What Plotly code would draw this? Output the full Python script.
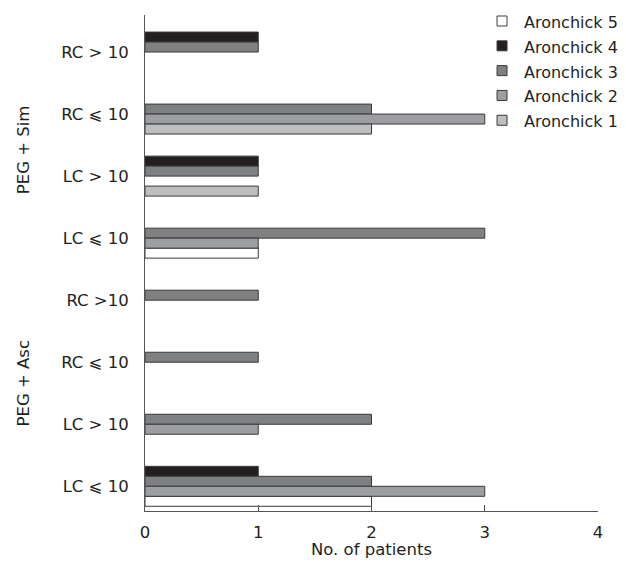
import plotly.graph_objects as go

# Categories listed bottom to top
categories = ["LC ⩽ 10", "LC > 10", "RC ⩽ 10", "RC >10",
              "LC ⩽ 10", "LC > 10", "RC ⩽ 10", "RC > 10"]
group_labels = ["PEG + Asc", "PEG + Sim"]

aronchick1 = [0, 0, 0, 0, 0, 1, 2, 0]
aronchick2 = [3, 1, 0, 0, 1, 0, 3, 0]
aronchick3 = [2, 2, 1, 1, 3, 1, 2, 1]
aronchick4 = [1, 0, 0, 0, 0, 1, 0, 1]
aronchick5 = [2, 0, 0, 0, 1, 0, 0, 0]

xticks = [0, 1, 2, 3, 4]

pos = list(range(len(categories)))
W = 0.161

# (name, values, colour, slot offset)
series = [
    ("Aronchick 5", aronchick5, "#ffffff", -2 * W),
    ("Aronchick 4", aronchick4, "#231f20", 1 * W),
    ("Aronchick 3", aronchick3, "#7f8082", 0.0),
    ("Aronchick 2", aronchick2, "#9d9ea1", -1 * W),
    ("Aronchick 1", aronchick1, "#bdbec0", -2 * W),
]

FONT = "DejaVu Sans"
TXT = "#231f20"
FS = 16.5
EDGE = "#3a3a3a"

FIG_W, FIG_H = 618, 551
ML, MR, MT, MB = 136.5, 28.3, 7, 48.3
PW = FIG_W - ML - MR
PH = FIG_H - MT - MB

fig = go.Figure()
for name, vals, col, off in series:
    fig.add_trace(go.Bar(
        x=[v if v else None for v in vals], y=pos, orientation="h", name=name,
        width=W, offset=off, showlegend=False,
        marker=dict(color=col, line=dict(color=EDGE, width=1)),
    ))

# legend drawn as boxes + labels (pixel layout converted to paper units)
def px_x(px):
    return (px - ML) / PW

def px_y(py):
    return 1 - (py - MT) / PH

LEG_BOX_X = 493.7
LEG_TXT_X = 514
LEG_Y0 = 13
LEG_DY = 24.8
BOX = 10
for k, (name, vals, col, off) in enumerate(series):
    cy = LEG_Y0 + k * LEG_DY
    fig.add_shape(
        type="rect", xref="paper", yref="paper",
        x0=px_x(LEG_BOX_X - BOX / 2), x1=px_x(LEG_BOX_X + BOX / 2),
        y0=px_y(cy + BOX / 2), y1=px_y(cy - BOX / 2),
        fillcolor=col, line=dict(color=EDGE, width=1),
    )
    fig.add_annotation(
        text=name, xref="paper", yref="paper",
        x=px_x(LEG_TXT_X), y=px_y(cy + 1.5),
        xanchor="left", yanchor="middle", showarrow=False,
        font=dict(family=FONT, size=16, color=TXT),
    )

fig.update_layout(
    width=FIG_W, height=FIG_H,
    margin=dict(l=ML, r=MR, t=MT, b=MB, autoexpand=False),
    paper_bgcolor="white", plot_bgcolor="white",
    barmode="overlay",
    font=dict(family=FONT, size=FS, color=TXT),
    showlegend=False,
)
fig.update_xaxes(
    range=[0, 4], tickvals=xticks, ticktext=[str(t) for t in xticks],
    showline=True, linecolor="#555555", linewidth=1,
    ticks="inside", ticklen=6, tickcolor="#555555",
    showgrid=False, zeroline=False, automargin=False,
    ticklabelstandoff=6,
    title=dict(text="No. of patients", standoff=7, font=dict(size=FS)),
)
fig.update_yaxes(
    range=[-0.398, 7.597], tickvals=pos, ticktext=categories,
    showline=True, linecolor="#555555", linewidth=1,
    ticks="", showgrid=False, zeroline=False, automargin=False,
    ticklabelstandoff=12,
)

# group labels
grp_y = [1.66, 5.42]
for lab, gy in zip(group_labels, grp_y):
    fig.add_annotation(
        text=lab, x=-0.269, xref="paper", y=gy, yref="y",
        textangle=-90, showarrow=False,
        font=dict(family=FONT, size=FS, color=TXT),
        xanchor="center", yanchor="middle",
    )

fig.write_html("out.html")
